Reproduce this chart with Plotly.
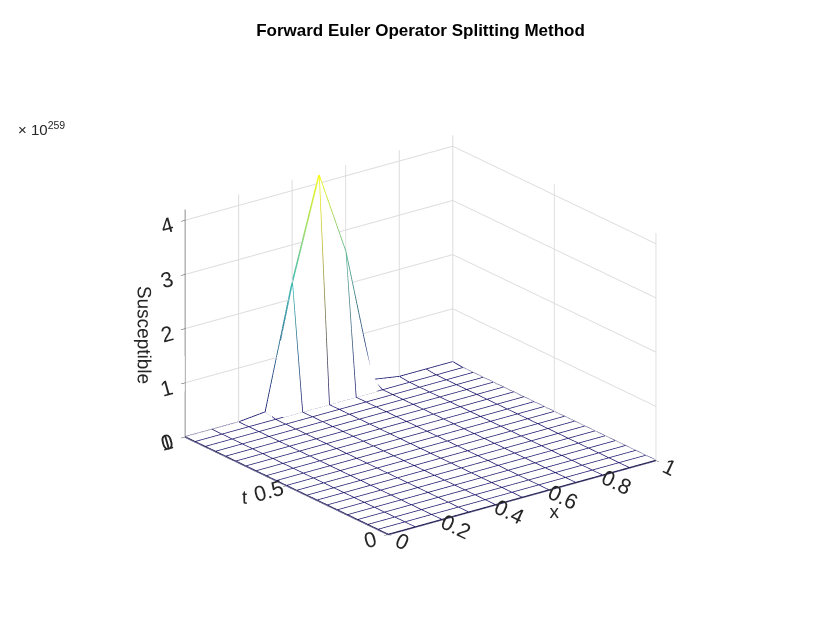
import plotly.graph_objects as go
import numpy as np

x = [0, 0.1, 0.2, 0.3, 0.4, 0.5, 0.6, 0.7, 0.8, 0.9, 1.0]
t = [i / 20 for i in range(21)]
# susceptible at t=1 (units of 1e259); all other rows are ~0
last_row = [0, 0, 0, 0.05, 2.3, 4.15, 2.6, 0.1, 0.02, 0.02, 0.02]

z = np.zeros((len(t), len(x)))
z[-1, :] = last_row

parula = [[0, '#1f1a6e'], [0.25, '#0f5cdd'], [0.5, '#14b5c1'], [0.75, '#a8bd6c'], [1, '#f9fb0e']]

fig = go.Figure()
fig.add_trace(go.Surface(x=x, y=t, z=z, surfacecolor=np.zeros_like(z),
                         colorscale=[[0, 'white'], [1, 'white']], showscale=False,
                         lighting=dict(ambient=1, diffuse=0, specular=0), hoverinfo='skip'))

# mesh lines coloured by height
for i in range(len(t)):
    fig.add_trace(go.Scatter3d(x=x, y=[t[i]] * len(x), z=z[i, :], mode='lines',
                               line=dict(color=z[i, :], colorscale=parula, cmin=0, cmax=4.15, width=3),
                               showlegend=False, hoverinfo='skip'))
for j in range(len(x)):
    fig.add_trace(go.Scatter3d(x=[x[j]] * len(t), y=t, z=z[:, j], mode='lines',
                               line=dict(color=z[:, j], colorscale=parula, cmin=0, cmax=4.15, width=3),
                               showlegend=False, hoverinfo='skip'))

ax = dict(showbackground=False, gridcolor='#dcdcdc', linecolor='black', showline=True,
          zeroline=False, tickfont=dict(size=16, color='#262626'), ticks='outside')
fig.update_layout(
    width=825, height=641, paper_bgcolor='white',
    font=dict(family='Liberation Sans, Arial', color='#262626'),
    title=dict(text='<b>Forward Euler Operator Splitting Method</b>', x=0.5, y=0.975, font=dict(size=17, color='black')),
    margin=dict(l=0, r=0, t=30, b=0),
    scene=dict(
        xaxis=dict(ax, title=dict(text='x', font=dict(size=19)), range=[0, 1], tickvals=[0, 0.2, 0.4, 0.6, 0.8, 1]),
        yaxis=dict(ax, title=dict(text='t', font=dict(size=19)), range=[0, 1], tickvals=[0, 0.5, 1]),
        zaxis=dict(ax, title=dict(text='Susceptible', font=dict(size=19)), range=[0, 4.2], tickvals=[0, 1, 2, 3, 4]),
        aspectmode='manual', aspectratio=dict(x=1.1, y=1.1, z=0.8),
        camera=dict(eye=dict(x=-0.85, y=-1.12, z=0.52), center=dict(x=0, y=0, z=-0.03),
                    projection=dict(type='orthographic')),
    ),
    annotations=[dict(text='× 10<sup>259</sup>', x=0.01, y=0.87, xref='paper', yref='paper',
                      showarrow=False, font=dict(size=15), xanchor='left')],
)

fig.write_html('out.html')
